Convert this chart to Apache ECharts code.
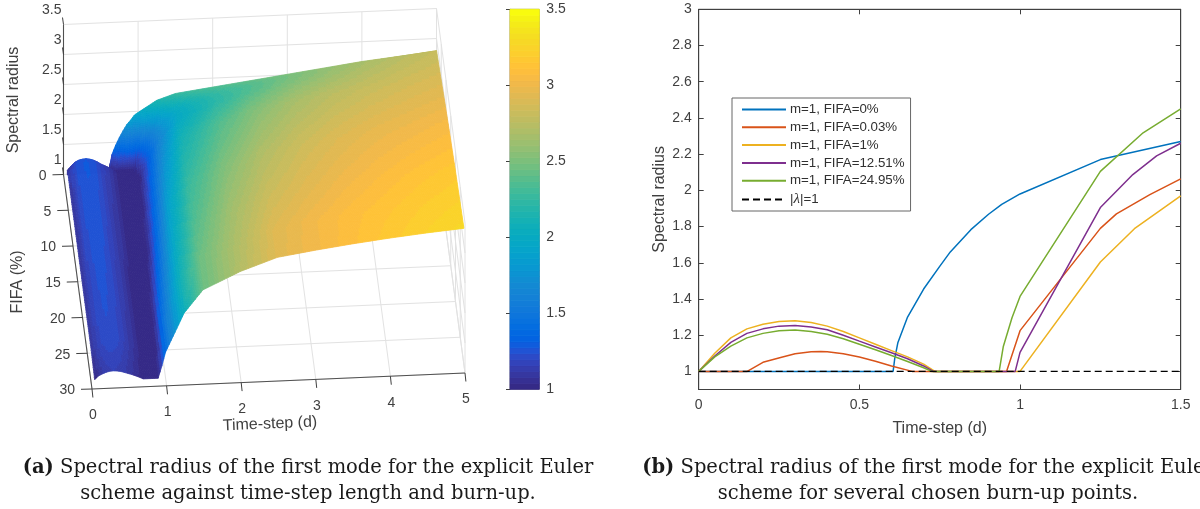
<!DOCTYPE html>
<html><head><meta charset="utf-8">
<style>html,body{margin:0;padding:0;background:#fff}#c{width:1200px;height:509px}</style>
<script src="https://cdn.jsdelivr.net/npm/echarts@6/dist/echarts.min.js"></script>
</head><body><div id="c"></div>
<script>
// ---------- data: panel (b) curves ----------
const blueT = [0,.605,.61,.62,.65,.7,.75,.783,.847,.902,.943,1,1.25,1.5];
const blueR = [1,1,1.07,1.16,1.3,1.455,1.58,1.66,1.783,1.868,1.922,1.98,2.17,2.27];
const redT = [0,.151,.2,.255,.3,.35,.38,.4,.45,.5,.55,.6,.664,.958,1,1.25,1.3,1.404,1.5];
const redR = [1,1,1.05,1.077,1.098,1.108,1.11,1.108,1.098,1.08,1.056,1.03,1,1,1.225,1.79,1.87,1.976,2.063];
const yellowT = [0,.05,.1,.15,.2,.25,.3,.35,.4,.45,.5,.55,.6,.65,.7,.735,1,1.25,1.356,1.5];
const yellowR = [1,1.1,1.185,1.235,1.26,1.275,1.28,1.27,1.25,1.22,1.185,1.15,1.115,1.08,1.04,1,1,1.604,1.788,1.97];
const purpleT = [0,.05,.1,.15,.2,.25,.3,.35,.4,.45,.5,.55,.6,.65,.7,.73,.985,1,1.25,1.351,1.425,1.5];
const purpleR = [1,1.085,1.16,1.21,1.235,1.25,1.254,1.245,1.23,1.2,1.167,1.135,1.103,1.07,1.03,1,1,1.105,1.905,2.087,2.19,2.26];
const greenT = [0,.05,.1,.15,.2,.25,.3,.35,.4,.45,.5,.55,.6,.65,.7,.725,.935,.948,.975,1,1.25,1.383,1.5];
const greenR = [1,1.08,1.14,1.185,1.21,1.225,1.229,1.22,1.205,1.18,1.15,1.12,1.088,1.055,1.02,1,1,1.138,1.296,1.414,2.105,2.318,2.45];
const unitT = [0,1.5];
const unitR = [1,1];
const seriesNames = ['m=1, FIFA=0%','m=1, FIFA=0.03%','m=1, FIFA=1%','m=1, FIFA=12.51%','m=1, FIFA=24.95%','|λ|=1'];
const radiusTicks = [1,1.2,1.4,1.6,1.8,2,2.2,2.4,2.6,2.8,3];

// ---------- data: panel (a) surface ----------
const surfT = [.05,.1,.15,.2,.25,.3,.35,.4,.45,.5,.55,.6,.65,.7,.75,.8,.85,.9,.95,1,1.25,1.5,2,2.5,3,3.5,4,4.5,5];
const surfF = [0,.03,.2,1,5,12.51,20,24.95,28.9];
const surfF0    = [1,1,1,1,1,1,1,1,1,1,1,1,1.3,1.455,1.58,1.69,1.79,1.86,1.94,1.98,2.17,2.27,2.35,2.43,2.51,2.59,2.67,2.73,2.79];
const surfF003  = [1,1,1,1.05,1.08,1.098,1.108,1.108,1.1,1.08,1.055,1.03,1,1,1,1,1,1,1,1.225,1.79,2.06,2.26,2.38,2.49,2.58,2.66,2.73,2.8];
const surfF02   = [1.09,1.16,1.22,1.25,1.265,1.27,1.26,1.24,1.21,1.17,1.14,1.11,1.07,1.03,1,1,1,1,1,1.15,1.7,2,2.22,2.36,2.48,2.58,2.67,2.74,2.81];
const surfF1    = [1.1,1.185,1.235,1.26,1.275,1.28,1.27,1.25,1.22,1.18,1.15,1.12,1.08,1.04,1,1,1,1,1,1,1.604,1.97,2.2,2.37,2.5,2.6,2.69,2.76,2.82];
const surfF5    = [1.09,1.17,1.225,1.25,1.265,1.27,1.26,1.24,1.21,1.17,1.14,1.11,1.075,1.035,1,1,1,1,1,1.03,1.7,2.1,2.35,2.53,2.66,2.75,2.81,2.86,2.9];
const surfF1251 = [1.085,1.16,1.21,1.235,1.25,1.254,1.245,1.23,1.2,1.165,1.135,1.105,1.07,1.03,1,1,1,1,1,1.105,1.905,2.26,2.52,2.71,2.83,2.91,2.97,3.01,3.05];
const surfF20   = [1.08,1.15,1.195,1.22,1.235,1.24,1.23,1.215,1.19,1.155,1.125,1.095,1.06,1.025,1,1,1,1,1.08,1.3,2.02,2.37,2.65,2.84,2.94,3.02,3.08,3.13,3.17];
const surfF2495 = [1.08,1.14,1.185,1.21,1.225,1.229,1.22,1.205,1.18,1.15,1.12,1.09,1.055,1.02,1,1,1,1,1.13,1.414,2.105,2.45,2.7,2.92,3.02,3.09,3.14,3.19,3.23];
const surfF289  = [1.02,1.08,1.11,1.135,1.15,1.155,1.15,1.14,1.12,1.1,1.08,1.055,1.03,1,1,1,1,1,1.2,1.43,2.07,2.44,2.72,2.93,3.02,3.1,3.17,3.23,3.28];
const surfRows = [surfF0,surfF003,surfF02,surfF1,surfF5,surfF1251,surfF20,surfF2495,surfF289];
const timeTicks = [0,1,2,3,4,5];
const fifaTicks = [0,5,10,15,20,25,30];
const zTicks = [1,1.5,2,2.5,3,3.5];

// ---------- style ----------
const FONT = '"Liberation Sans", Arial, sans-serif';
const SERIF = '"DejaVu Serif", serif';
const INK = '#404040';
const parula = [[.2081,.1663,.5292],[.2116,.1898,.5777],[.2123,.2138,.627],[.2081,.2386,.6771],[.1959,.2645,.7279],[.1707,.2919,.7792],[.1253,.3242,.8303],[.0591,.3598,.8683],[.0117,.3875,.882],[.006,.4086,.8828],[.0165,.4266,.8786],[.0329,.443,.872],[.0498,.4586,.8641],[.0629,.4737,.8554],[.0723,.4887,.8467],[.0779,.504,.8384],[.0793,.52,.8312],[.0749,.5375,.8263],[.0641,.557,.824],[.0488,.5772,.8228],[.0343,.5966,.8199],[.0265,.6137,.8135],[.0239,.6287,.8038],[.0231,.6418,.7913],[.0228,.6535,.7768],[.0267,.6642,.7607],[.0384,.6743,.7436],[.059,.6838,.7254],[.0843,.6928,.7062],[.1133,.7015,.6859],[.1453,.7098,.6646],[.1801,.7177,.6424],[.2178,.725,.6193],[.2586,.7317,.5954],[.3022,.7376,.5712],[.3482,.7424,.5473],[.3953,.7459,.5244],[.442,.7481,.5033],[.4871,.7491,.484],[.53,.7491,.4661],[.5709,.7485,.4494],[.6099,.7473,.4337],[.6473,.7456,.4188],[.6834,.7435,.4044],[.7184,.7411,.3905],[.7525,.7384,.3768],[.7858,.7356,.3633],[.8185,.7327,.3498],[.8507,.7299,.336],[.8824,.7274,.3217],[.9139,.7258,.3063],[.945,.7261,.2886],[.9739,.7314,.2666],[.9938,.7455,.2403],[.999,.7653,.2164],[.9955,.7861,.1967],[.988,.8066,.1794],[.9789,.8271,.1633],[.9697,.8481,.1475],[.9626,.8705,.1309],[.9589,.8949,.1132],[.9598,.9218,.0948],[.9661,.9514,.0755],[.9763,.9831,.0538]]
  .map(c => 'rgb(' + c.map(v => Math.round(v * 255)).join(',') + ')');
const zMin = 1, zMax = 3.5;
const colorOf = z => parula[Math.max(0, Math.min(63, Math.floor((z - zMin) / (zMax - zMin) * 64)))];

// orthographic view of the 3-D axes onto the page plane
const view = { ox: 63.5, oy: 174.5, tx: 74.6, ty: -3.2, fx: .95, fy: 7.15, zy: -60 };
const project = (t, f, z) => [
  view.ox + view.tx * t + view.fx * f,
  view.oy + view.ty * t + view.fy * f + view.zy * (z - 1)
];

// surface cells: back row first, far column first; sub-cells only refine the shading
const cells = [];
for (let j = 0; j < surfF.length - 1; j++) {
  for (let i = surfT.length - 2; i >= 0; i--) {
    const a = surfRows[j][i], b = surfRows[j][i + 1], c = surfRows[j + 1][i], d = surfRows[j + 1][i + 1];
    const p00 = project(surfT[i], surfF[j], a), p11 = project(surfT[i + 1], surfF[j + 1], d);
    const p10 = project(surfT[i + 1], surfF[j], b), p01 = project(surfT[i], surfF[j + 1], c);
    const nx = Math.max(1, Math.ceil(Math.max(Math.abs(p10[0] - p00[0]), Math.abs(p11[0] - p01[0])) / 2));
    const ny = Math.max(1, Math.ceil(Math.max(Math.abs(p01[1] - p00[1]), Math.abs(p11[1] - p10[1])) / 2.5));
    const pt = (u, v) => {
      const t = surfT[i] + (surfT[i + 1] - surfT[i]) * u, f = surfF[j] + (surfF[j + 1] - surfF[j]) * v;
      const z = a * (1 - u) * (1 - v) + b * u * (1 - v) + c * (1 - u) * v + d * u * v;
      return [t, f, z];
    };
    for (let y = 0; y < ny; y++) for (let x = nx - 1; x >= 0; x--) {
      const q = [pt(x / nx, y / ny), pt((x + 1) / nx, y / ny), pt((x + 1) / nx, (y + 1) / ny), pt(x / nx, (y + 1) / ny)];
      cells.push(q.flat());
    }
  }
}

// 3-D wire segments
const wires = [], axes3d = [];
const tMax = 5, fMax = 30;
timeTicks.forEach(t => {
  wires.push([t, 0, 1, t, fMax, 1]);
  wires.push([t, 0, 1, t, 0, zMax]);
});
fifaTicks.forEach(f => {
  wires.push([0, f, 1, tMax, f, 1]);
  wires.push([tMax, f, 1, tMax, f, zMax]);
});
zTicks.forEach(z => {
  wires.push([0, 0, z, tMax, 0, z]);
  wires.push([tMax, 0, z, tMax, fMax, z]);
});
axes3d.push([0, fMax, 1, tMax, fMax, 1], [0, 0, 1, 0, fMax, 1], [0, 0, 1, 0, 0, zMax]);

const labels3d = [];
timeTicks.forEach(t => labels3d.push({ p: [t, fMax, 1], text: String(t), dx: 1, dy: 26.5, al: 'center', tick: [.9, 8.5] }));
fifaTicks.forEach(f => labels3d.push({ p: [0, f, 1], text: String(f), dx: -17, dy: 1.5, al: 'right', tick: [-11, .3] }));
zTicks.forEach(z => labels3d.push({ p: [0, 0, z], text: String(z), dx: -2, dy: -14, al: 'right', tick: [-1, -7] }));

const wireSeries = (name, list, color, width) => ({
  type: 'custom', name, coordinateSystem: 'cartesian2d', xAxisIndex: 0, yAxisIndex: 0,
  silent: true, animation: false, clip: false, progressive: 0,
  data: list,
  renderItem: (params, api) => {
    const a = api.coord(project(api.value(0), api.value(1), api.value(2)));
    const b = api.coord(project(api.value(3), api.value(4), api.value(5)));
    return { type: 'line', shape: { x1: a[0], y1: a[1], x2: b[0], y2: b[1] }, style: { stroke: color, lineWidth: width } };
  }
});

const zip = (a, b) => a.map((v, i) => [v, b[i]]);
const lineSeries = (name, t, r, color, extra) => Object.assign({
  type: 'line', name, data: zip(t, r), xAxisIndex: 2, yAxisIndex: 2,
  showSymbol: false, symbol: 'none', silent: true, animation: false,
  lineStyle: { color, width: 1.5 }, itemStyle: { color }, clip: true
}, extra || {});

const colorbarBands = parula.map((c, i) => [zMin + (zMax - zMin) * i / 64, zMin + (zMax - zMin) * (i + 1) / 64, i]);

const capRich = {
  b: { fontFamily: SERIF, fontSize: 19.5, fontWeight: 'bold', color: '#1a1a1a' },
  n: { fontFamily: SERIF, fontSize: 19.5, color: '#1a1a1a' }
};
const caption = (text, cx, top) => ({ text, left: cx, top, textAlign: 'center', padding: 0, textStyle: { rich: capRich, fontFamily: SERIF, fontSize: 19.5, fontWeight: 'normal', color: '#1a1a1a' } });
const axisText = (text, x, y, rot) => ({ type: 'text', x, y, rotation: rot, silent: true,
  style: { text, font: '16px ' + FONT, fill: INK, textAlign: 'center', textVerticalAlign: 'middle' } });

const option = {
  backgroundColor: '#fff', animation: false,
  textStyle: { fontFamily: FONT },
  title: [
    caption('{b|(a)} {n|Spectral radius of the first mode for the explicit Euler}', 308, 458),
    caption('scheme against time-step length and burn-up.', 308, 484),
    caption('{b|(b)} {n|Spectral radius of the first mode for the explicit Euler}', 928, 458),
    caption('scheme for several chosen burn-up points.', 928, 484)
  ],
  grid: [
    { left: 0, top: 0, width: 1200, height: 509, show: false },
    { left: 510, top: 9.3, width: 29.3, height: 380, show: true, borderColor: '#8a8a8a', borderWidth: 1, backgroundColor: 'transparent' },
    { left: 698.7, top: 9.3, width: 482, height: 380.2, show: true, borderColor: INK, borderWidth: 1, backgroundColor: 'transparent' }
  ],
  xAxis: [
    { gridIndex: 0, type: 'value', min: 0, max: 1200, show: false },
    { gridIndex: 1, type: 'value', min: 0, max: 1, show: false },
    { gridIndex: 2, type: 'value', min: 0, max: 1.5, interval: .5, position: 'bottom',
      name: 'Time-step (d)', nameLocation: 'middle', nameGap: 31, nameTextStyle: { fontSize: 16, color: INK, fontFamily: FONT },
      axisLine: { show: true, lineStyle: { color: INK } }, axisTick: { show: true, inside: true, length: 5, lineStyle: { color: INK } },
      axisLabel: { fontSize: 14, color: INK, margin: 9, fontFamily: FONT, showMinLabel: true, showMaxLabel: true }, splitLine: { show: false } },
    { gridIndex: 2, type: 'value', min: 0, max: 1.5, interval: .5, position: 'top',
      axisLine: { show: true, lineStyle: { color: INK } }, axisTick: { show: true, inside: true, length: 5, lineStyle: { color: INK } },
      axisLabel: { show: false }, splitLine: { show: false } }
  ],
  yAxis: [
    { gridIndex: 0, type: 'value', min: 0, max: 509, inverse: true, show: false },
    { gridIndex: 1, type: 'value', min: zMin, max: zMax, interval: .5, position: 'right',
      axisLine: { show: true, lineStyle: { color: '#8a8a8a' } }, axisTick: { show: true, inside: true, length: 4, lineStyle: { color: INK } },
      axisLabel: { fontSize: 14, color: INK, margin: 7, fontFamily: FONT, showMinLabel: true, showMaxLabel: true }, splitLine: { show: false } },
    { gridIndex: 2, type: 'value', min: .9, max: 3, position: 'left',
      name: 'Spectral radius', nameLocation: 'middle', nameGap: 31, nameTextStyle: { fontSize: 16, color: INK, fontFamily: FONT },
      axisLine: { show: true, onZero: false, lineStyle: { color: INK } },
      axisTick: { show: true, inside: true, length: 5, lineStyle: { color: INK }, customValues: radiusTicks },
      axisLabel: { fontSize: 14, color: INK, margin: 7, fontFamily: FONT, customValues: radiusTicks }, splitLine: { show: false } },
    { gridIndex: 2, type: 'value', min: .9, max: 3, position: 'right',
      axisLine: { show: true, onZero: false, lineStyle: { color: INK } },
      axisTick: { show: true, inside: true, length: 5, lineStyle: { color: INK }, customValues: radiusTicks },
      axisLabel: { show: false }, splitLine: { show: false } }
  ],
  legend: {
    left: 732, top: 98, orient: 'vertical', align: 'left', padding: [5, 6, 4, 9], itemWidth: 44, itemHeight: 14, itemGap: 4.8,
    backgroundColor: '#fff', borderColor: '#666', borderWidth: 1, borderRadius: 0,
    selectedMode: false, data: seriesNames.map(name => ({ name })),
    itemStyle: { opacity: 0 },
    textStyle: { fontSize: 13.3, color: '#303030', fontFamily: FONT, padding: [0, 0, 0, -1],
      rich: { l: { fontFamily: '"Liberation Serif", serif', fontStyle: 'italic', fontSize: 15, color: '#303030' } } },
    formatter: n => n.replace('λ', '{l|λ}')
  },
  graphic: [
    axisText('Spectral radius', 14, 100, Math.PI / 2),
    axisText('FIFA (%)', 18, 282, Math.PI / 2),
    axisText('Time-step (d)', 270, 424, .042)
  ],
  series: [
    wireSeries('wall grid', wires, '#e2e2e2', 1),
    {
      type: 'custom', name: 'surface', coordinateSystem: 'cartesian2d', xAxisIndex: 0, yAxisIndex: 0,
      silent: true, animation: false, clip: false, progressive: 0, data: cells,
      renderItem: (params, api) => {
        const pts = [];
        let zs = 0;
        for (let k = 0; k < 4; k++) {
          const z = api.value(k * 3 + 2);
          zs += z;
          pts.push(api.coord(project(api.value(k * 3), api.value(k * 3 + 1), z)));
        }
        const col = colorOf(zs / 4);
        return { type: 'polygon', shape: { points: pts }, style: { fill: col, stroke: col, lineWidth: .8 } };
      }
    },
    wireSeries('box axes', axes3d, '#505050', 1.1),
    {
      type: 'custom', name: 'tick marks', coordinateSystem: 'cartesian2d', xAxisIndex: 0, yAxisIndex: 0,
      silent: true, animation: false, clip: false, progressive: 0, data: labels3d.map((_, i) => [i, 0]),
      renderItem: (params, api) => {
        const L = labels3d[api.value(0)];
        const a = api.coord(project(L.p[0], L.p[1], L.p[2]));
        return { type: 'group', children: [
          { type: 'line', shape: { x1: a[0], y1: a[1], x2: a[0] + L.tick[0], y2: a[1] + L.tick[1] }, style: { stroke: '#404040', lineWidth: 1 } },
          { type: 'text', x: a[0] + L.dx, y: a[1] + L.dy, style: { text: L.text, font: '14px ' + FONT, fill: INK, textAlign: L.al, textVerticalAlign: 'middle' } }
        ] };
      }
    },
    {
      type: 'custom', name: 'colorbar', coordinateSystem: 'cartesian2d', xAxisIndex: 1, yAxisIndex: 1,
      silent: true, animation: false, progressive: 0, data: colorbarBands,
      encode: { y: [0, 1] },
      renderItem: (params, api) => {
        const a = api.coord([0, api.value(0)]), b = api.coord([1, api.value(1)]);
        const col = parula[api.value(2)];
        return { type: 'rect', shape: { x: a[0], y: b[1], width: b[0] - a[0], height: a[1] - b[1] }, style: { fill: col, stroke: col, lineWidth: .8 } };
      }
    },
    lineSeries(seriesNames[0], blueT, blueR, '#0072BD'),
    lineSeries(seriesNames[1], redT, redR, '#D95319'),
    lineSeries(seriesNames[2], yellowT, yellowR, '#EDB120'),
    lineSeries(seriesNames[3], purpleT, purpleR, '#7E2F8E'),
    lineSeries(seriesNames[4], greenT, greenR, '#77AC30'),
    lineSeries(seriesNames[5], unitT, unitR, '#000', { lineStyle: { color: '#000', width: 1.2, type: [7, 4] } })
  ]
};
const chart = echarts.init(document.getElementById('c'), null, { renderer: 'canvas', width: 1200, height: 509 });
chart.setOption(option);
</script></body></html>
